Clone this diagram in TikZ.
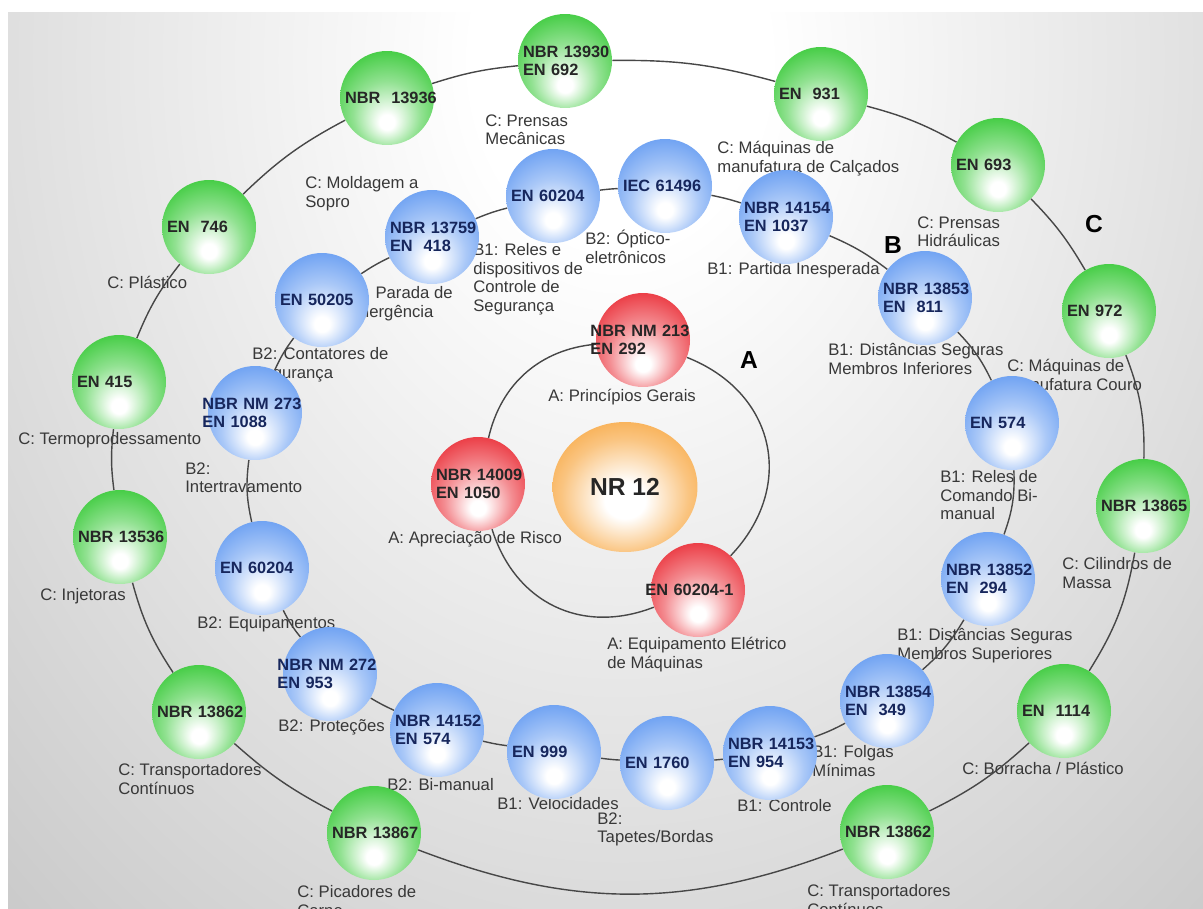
\documentclass[tikz,border=0pt]{standalone}
\usepackage{fontspec}
\setmainfont{Liberation Sans}
\usetikzlibrary{shapes.geometric}

\definecolor{ringgreen}{RGB}{36,196,36}
\definecolor{ringblue}{RGB}{86,146,240}
\definecolor{ringred}{RGB}{232,26,36}
\definecolor{ringorange}{RGB}{246,148,24}
\definecolor{navy}{RGB}{22,38,92}

\pgfdeclareradialshading{glowgreen}{\pgfpoint{0bp}{-14bp}}{color(0bp)=(white); color(4bp)=(white); color(18bp)=(ringgreen!50!white); color(32bp)=(ringgreen!88!white); color(50bp)=(ringgreen)}
\pgfdeclareradialshading{glowblue}{\pgfpoint{0bp}{-14bp}}{color(0bp)=(white); color(4bp)=(white); color(18bp)=(ringblue!50!white); color(32bp)=(ringblue!88!white); color(50bp)=(ringblue)}
\pgfdeclareradialshading{glowred}{\pgfpoint{0bp}{-14bp}}{color(0bp)=(white); color(4bp)=(white); color(18bp)=(ringred!50!white); color(32bp)=(ringred!88!white); color(50bp)=(ringred)}
\pgfdeclareradialshading{gloworange}{\pgfpoint{0bp}{-6bp}}{color(0bp)=(white); color(7bp)=(white); color(22bp)=(ringorange!55!white); color(36bp)=(ringorange!92!white); color(50bp)=(ringorange)}
\pgfdeclareradialshading{bgglow}{\pgfpoint{0bp}{0bp}}{color(0bp)=(white); color(4bp)=(white); color(18bp)=(black!14); color(30bp)=(black!26); color(42bp)=(black!35); color(50bp)=(black!42)}

\pgfdeclarelayer{back}
\pgfdeclarelayer{wires}
\pgfsetlayers{back,wires,main}

\begin{document}
\begin{tikzpicture}[x=0.02cm, y=0.02cm,
    ball/.style={circle, shade, minimum size=1.88cm, inner sep=0pt, text width=1.68cm, align=left, font=\fontsize{9.3}{10.6}\selectfont\bfseries},
    cball/.style={ball, shading=glowgreen, text=black!85},
    bball/.style={ball, shading=glowblue, text=navy},
    aball/.style={ball, shading=glowred, text=black!85},
    note/.style={anchor=north west, inner sep=0pt, align=left, text=black!78, font=\fontsize{9.5}{10.6}\selectfont},
    ring/.style={draw=black!72, line width=0.8pt},
    tier/.style={font=\fontsize{14}{16}\selectfont\bfseries}]
    \useasboundingbox (0,0) rectangle (1203,-909);
    % background
    \begin{pgfonlayer}{back}
    \fill[white] (0,0) rectangle (1203,-909);
    \begin{scope}
    \clip (8,-13) rectangle (1203,-909);
    \fill[black!42] (8,-13) rectangle (1203,-909);
    \shade[shading=bgglow] (620,-60) ellipse (920 and 1170);
    \end{scope}
    % labels C
    \node[note] (lc1) at (485,-114) {C: Prensas\\Mecânicas};
    \node[note] (lc2) at (717,-141) {C: Máquinas de\\manufatura de Calçados};
    \node[note] (lc3) at (917,-216) {C: Prensas\\Hidráulicas};
    \node[note] (lc4) at (1007,-359) {C: Máquinas de\\manufatura Couro};
    \node[note] (lc5) at (1062,-557) {C: Cilindros de\\Massa};
    \node[note] (lc6) at (962,-762) {C: Borracha / Plástico};
    \node[note] (lc7) at (807,-884) {C: Transportadores\\Contínuos};
    \node[note] (lc8) at (297,-885) {C: Picadores de\\Carne};
    \node[note] (lc9) at (118,-763) {C: Transportadores\\Contínuos};
    \node[note] (lc10) at (40,-588) {C: Injetoras};
    \node[note] (lc11) at (18,-432) {C: Termoprodessamento};
    \node[note] (lc12) at (107,-276) {C: Plástico};
    \node[note] (lc13) at (305,-176) {C: Moldagem a\\Sopro};
    % labels B
    \node[note] (lb1) at (473,-243) {B1: Reles e\\dispositivos de\\Controle de\\Segurança};
    \node[note] (lb2) at (585,-230) {B2: Óptico-\\eletrônicos};
    \node[note] (lb3) at (707,-262) {B1: Partida Inesperada};
    \node[note] (lb4) at (828,-343) {B1: Distâncias Seguras\\Membros Inferiores};
    \node[note] (lb5) at (940,-470) {B1: Reles de\\Comando Bi-\\manual};
    \node[note] (lb6) at (897,-628) {B1: Distâncias Seguras\\Membros Superiores};
    \node[note] (lb7) at (812,-745) {B1: Folgas\\Mínimas};
    \node[note] (lb8) at (737,-799) {B1: Controle};
    \node[note] (lb9) at (597,-812) {B2:\\Tapetes/Bordas};
    \node[note] (lb10) at (497,-797) {B1: Velocidades};
    \node[note] (lb11) at (387,-778) {B2: Bi-manual};
    \node[note] (lb12) at (278,-719) {B2: Proteções};
    \node[note] (lb13) at (197,-616) {B2: Equipamentos};
    \node[note] (lb14) at (185,-462) {B2:\\Intertravamento};
    \node[note] (lb15) at (252,-347) {B2: Contatores de\\Segurança};
    \node[note] (lb16) at (344,-286) {B1: Parada de\\Emergência};
    % labels A
    \node[note] (la1) at (548,-389) {A: Princípios Gerais};
    \node[note] (la2) at (388,-531) {A: Apreciação de Risco};
    \node[note] (la3) at (607,-637) {A: Equipamento Elétrico\\de Máquinas};
    \end{pgfonlayer}
    % ring C
    \node[cball] (c1) at (565,-61) {NBR~13930\\EN~692};
    \node[cball] (c2) at (821,-94) {EN~~931};
    \node[cball] (c3) at (998,-165) {EN~693};
    \node[cball] (c4) at (1109,-311) {EN~972};
    \node[cball] (c5) at (1143,-506) {NBR~13865};
    \node[cball] (c6) at (1064,-711) {EN~~1114};
    \node[cball] (c7) at (887,-832) {NBR~13862};
    \node[cball] (c8) at (374,-833) {NBR~13867};
    \node[cball] (c9) at (199,-712) {NBR~13862};
    \node[cball] (c10) at (120,-537) {NBR~13536};
    \node[cball] (c11) at (119,-382) {EN~415};
    \node[cball] (c12) at (209,-227) {EN~~746};
    \node[cball] (c13) at (387,-98) {NBR~~13936};
    % ring B
    \node[bball] (b1) at (553,-196) {EN~60204};
    \node[bball] (b2) at (665,-186) {IEC~61496};
    \node[bball] (b3) at (786,-217) {NBR~14154\\EN~1037};
    \node[bball] (b4) at (925,-298) {NBR~13853\\EN~~811};
    \node[bball] (b5) at (1012,-423) {EN~574};
    \node[bball] (b6) at (988,-579) {NBR~13852\\EN~~294};
    \node[bball] (b7) at (887,-701) {NBR~13854\\EN~~349};
    \node[bball] (b8) at (770,-753) {NBR~14153\\EN~954};
    \node[bball] (b9) at (667,-763) {EN~1760};
    \node[bball] (b10) at (554,-752) {EN~999};
    \node[bball] (b11) at (437,-730) {NBR~14152\\EN~574};
    \node[bball] (b12) at (330,-674) {\hspace*{-6pt}NBR~NM~272\\\hspace*{-6pt}EN~953};
    \node[bball] (b13) at (262,-568) {EN~60204};
    \node[bball] (b14) at (255,-413) {\hspace*{-6pt}NBR~NM~273\\\hspace*{-6pt}EN~1088};
    \node[bball] (b15) at (322,-300) {EN~50205};
    \node[bball] (b16) at (432,-237) {NBR~13759\\EN~~418};
    % ring A
    \node[aball] (a1) at (643,-340) {\hspace*{-6pt}NBR~NM~213\\\hspace*{-6pt}EN~292};
    \node[aball] (a2) at (478,-484) {NBR~14009\\EN~1050};
    \node[aball] (a3) at (698,-590) {\hspace*{-6pt}EN~60204-1};
    % centre
    \node[ellipse, shade, shading=gloworange, minimum width=2.9cm, minimum height=2.6cm, text=black!85, font=\fontsize{14}{16}\selectfont\bfseries] (nr) at (625,-487) {NR 12};
    % tiers
    \node[tier] (ta) at (749,-360) {A};
    \node[tier] (tb) at (893,-245) {B};
    \node[tier] (tc) at (1094,-224) {C};
    % connectors
    \begin{pgfonlayer}{wires}
    \foreach \i/\j/\b in {c1/c2/8, c2/c3/7, c3/c4/7, c4/c5/11, c5/c6/11, c6/c7/8, c7/c8/21, c8/c9/7, c9/c10/9, c10/c11/7, c11/c12/8, c12/c13/8, c13/c1/6}
        \path[ring] (\i) to[bend left=\b] (\j);
    \foreach \i/\j/\b in {b1/b2/2, b2/b3/3, b3/b4/7, b4/b5/9, b5/b6/11, b6/b7/9, b7/b8/4, b8/b9/2, b9/b10/2, b10/b11/3, b11/b12/3, b12/b13/6, b13/b14/10, b14/b15/6, b15/b16/4, b16/b1/4}
        \path[ring] (\i) to[bend left=\b] (\j);
    \path[ring] (a1) to[bend left=56, looseness=1.2] (a3);
    \path[ring] (a3) to[bend left=47, looseness=1.1] (a2);
    \path[ring] (a2) to[bend left=36] (a1);
    \end{pgfonlayer}
\end{tikzpicture}
\end{document}
